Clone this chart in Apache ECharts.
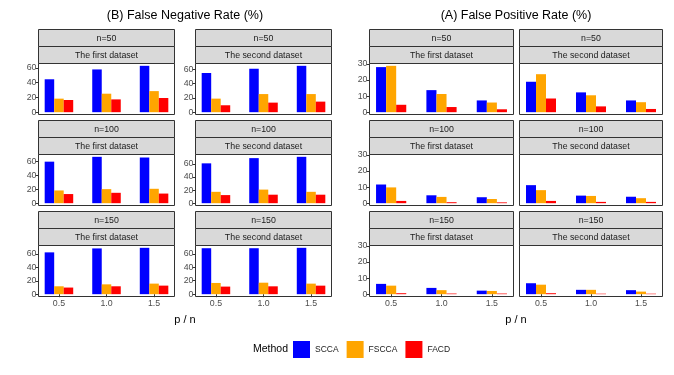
<!DOCTYPE html>
<html>
<head>
<meta charset="utf-8">
<style>
html,body{margin:0;padding:0;background:#fff;}
#chart{width:674px;height:375px;}
</style>
<script src="https://cdn.jsdelivr.net/npm/echarts@6.0.0/dist/echarts.min.js"></script>
</head>
<body>
<div id="chart"></div>
<script>
var pRatio = [0.5, 1.0, 1.5];
var methods = ['SCCA', 'FSCCA', 'FACD'];
var methodColors = ['#0000FF', '#FFA500', '#FF0000'];
var nLabels = ['n=50', 'n=100', 'n=150'];
var datasetLabels = ['The first dataset', 'The second dataset'];
var fnrTicks = [0, 20, 40, 60];
var fprTicks = [0, 10, 20, 30];

// panel order: n=50 first, n=50 second, n=100 first, n=100 second, n=150 first, n=150 second
var fnrSCCA  = [[44.5, 57.8, 62.7], [54.9, 60.9, 65.0], [60.0, 67.0, 66.0], [61.0, 69.0, 71.0], [62.5, 68.4, 69.3], [68.4, 68.4, 69.0]];
var fnrFSCCA = [[18.3, 25.0, 28.5], [19.0, 25.4, 25.4], [18.4, 20.3, 20.8], [17.4, 20.8, 17.4], [11.8, 14.7, 15.8], [16.7, 17.1, 15.7]];
var fnrFACD  = [[16.5, 17.3, 19.2], [9.7, 13.4, 14.8], [13.2, 15.0, 13.9], [12.4, 13.0, 13.0], [9.9, 11.8, 12.8], [11.3, 11.7, 12.7]];

var fprSCCA  = [[28.0, 13.7, 7.3], [18.9, 12.3, 7.3], [11.6, 4.9, 3.7], [11.2, 4.7, 4.0], [6.4, 3.9, 2.2], [6.8, 2.7, 2.5]];
var fprFSCCA = [[28.8, 11.3, 6.0], [23.6, 10.5, 6.2], [9.8, 3.9, 2.6], [8.1, 4.5, 3.1], [5.3, 2.5, 2.0], [5.9, 2.7, 1.6]];
var fprFACD  = [[4.6, 3.2, 1.8], [8.5, 3.6, 2.0], [1.4, 0.6, 0.5], [1.4, 0.8, 0.8], [0.6, 0.4, 0.4], [0.6, 0.3, 0.3]];

var font = 'Liberation Sans, Arial, sans-serif';
var rowTop = [29.5, 120.5, 211.5];
var strip1H = 17, strip2H = 17, panelH = 51;
var blocks = [
	{title: '(B) False Negative Rate (%)', cx: 185, cols: [[38.5, 136], [195.5, 136]], data: [fnrSCCA, fnrFSCCA, fnrFACD], ticks: fnrTicks, freeY: true},
	{title: '(A) False Positive Rate (%)', cx: 516, cols: [[369.5, 144], [519.5, 143]], data: [fprSCCA, fprFSCCA, fprFACD], ticks: fprTicks, freeY: false}
];

var grids = [], xAxes = [], yAxes = [], series = [], graphics = [];
var k = 0;
blocks.forEach(function (b) {
	graphics.push({type: 'text', style: {text: b.title, x: b.cx, y: 16, align: 'center', verticalAlign: 'middle', fontSize: 12.5, fontFamily: font, fill: '#000'}});
	graphics.push({type: 'text', style: {text: 'p / n', x: (b.cols[0][0] + b.cols[1][0] + b.cols[1][1]) / 2, y: 320, align: 'center', verticalAlign: 'middle', fontSize: 11, fontFamily: font, fill: '#000'}});
	var blockMax = 0;
	b.data.forEach(function (arr) { arr.forEach(function (row) { blockMax = Math.max(blockMax, Math.max.apply(null, row)); }); });
	for (var r = 0; r < 3; r++) {
		for (var c = 0; c < 2; c++) {
			var idx = r * 2 + c;
			var x = b.cols[c][0], w = b.cols[c][1];
			var top = rowTop[r];
			graphics.push({type: 'rect', shape: {x: x, y: top, width: w, height: strip1H}, style: {fill: '#D9D9D9', stroke: '#333', lineWidth: 1}});
			graphics.push({type: 'rect', shape: {x: x, y: top + strip1H, width: w, height: strip2H}, style: {fill: '#D9D9D9', stroke: '#333', lineWidth: 1}});
			graphics.push({type: 'text', style: {text: nLabels[r], x: x + w / 2, y: top + strip1H / 2 + 0.5, align: 'center', verticalAlign: 'middle', fontSize: 8.8, fontFamily: font, fill: '#1A1A1A'}});
			graphics.push({type: 'text', style: {text: datasetLabels[c], x: x + w / 2, y: top + strip1H + strip2H / 2 + 0.5, align: 'center', verticalAlign: 'middle', fontSize: 8.8, fontFamily: font, fill: '#1A1A1A'}});

			var ymax = blockMax;
			if (b.freeY) {
				ymax = 0;
				b.data.forEach(function (arr) { ymax = Math.max(ymax, Math.max.apply(null, arr[idx])); });
			}
			var showY = b.freeY || c == 0;
			var showX = r == 2;
			grids.push({left: x, top: top + strip1H + strip2H, width: w, height: panelH, show: true, borderColor: '#333', borderWidth: 1, backgroundColor: '#fff'});
			xAxes.push({
				type: 'value', gridIndex: k, min: 0.285, max: 1.715,
				splitLine: {show: false}, axisLine: {show: false},
				axisTick: {show: showX, length: 3, customValues: pRatio, lineStyle: {color: '#333'}},
				axisLabel: {show: showX, customValues: pRatio, margin: 3, fontSize: 8.8, color: '#4D4D4D', fontFamily: font,
					formatter: function (v) { return v.toFixed(1); }}
			});
			yAxes.push({
				type: 'value', gridIndex: k, min: -0.05 * ymax, max: 1.05 * ymax,
				splitLine: {show: false}, axisLine: {show: false},
				axisTick: {show: showY, length: 3, customValues: b.ticks, lineStyle: {color: '#333'}},
				axisLabel: {show: showY, customValues: b.ticks, margin: 2, fontSize: 8.8, color: '#4D4D4D', fontFamily: font}
			});
			for (var m = 0; m < 3; m++) {
				series.push({
					type: 'bar', name: methods[m], xAxisIndex: k, yAxisIndex: k,
					data: pRatio.map(function (p, i) { return [p, b.data[m][idx][i]]; }),
					barWidth: w * 0.1 / 1.43, barGap: '0%',
					itemStyle: {color: methodColors[m]}
				});
			}
			k++;
		}
	}
});

graphics.push({type: 'text', style: {text: 'Method', x: 253, y: 349, align: 'left', verticalAlign: 'middle', fontSize: 10.5, fontFamily: font, fill: '#000'}});

var myChart = echarts.init(document.getElementById('chart'), null, {renderer: 'canvas'});
myChart.setOption({
	animation: false,
	backgroundColor: '#fff',
	grid: grids,
	xAxis: xAxes,
	yAxis: yAxes,
	series: series,
	graphic: graphics,
	legend: {
		data: methods, left: 293, top: 341, itemWidth: 17, itemHeight: 17, itemGap: 8, padding: 0,
		icon: 'rect', selectedMode: false,
		textStyle: {fontSize: 8.5, color: '#1A1A1A', fontFamily: font}
	}
});
</script>
</body>
</html>
